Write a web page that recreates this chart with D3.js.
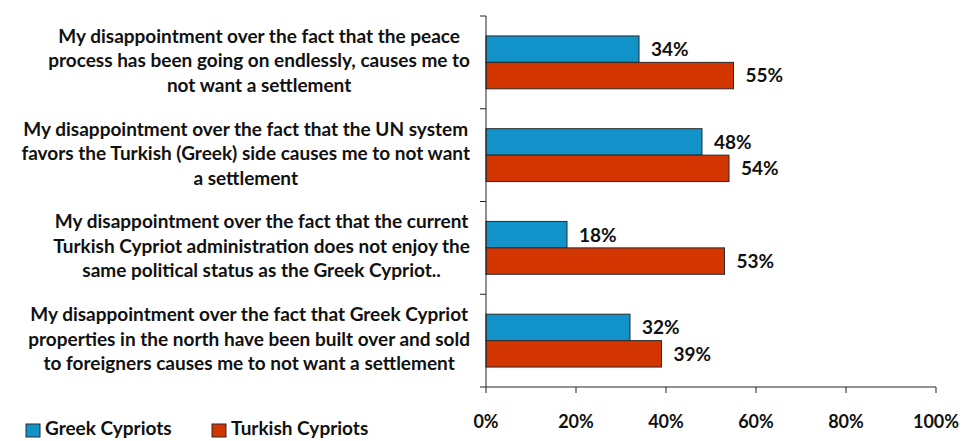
<!DOCTYPE html>
<html><head><meta charset="utf-8">
<script src="https://cdn.jsdelivr.net/npm/d3@7"></script>
<style>body{margin:0;background:#fff}svg{display:block}text{font-family:Lato,"Open Sans",sans-serif;font-weight:bold;fill:#111}</style>
</head><body>
<script>
const categories = [
  ["My disappointment over the fact that the peace","process has been going on endlessly, causes me to","not want a settlement"],
  ["My disappointment over the fact that the UN system","favors the Turkish (Greek) side causes me to not want","a settlement"],
  ["My disappointment over the fact that the current","Turkish Cypriot administration does not enjoy the","same political status as the Greek Cypriot.."],
  ["My disappointment over the fact that Greek Cypriot","properties in the north have been built over and sold","to foreigners causes me to not want a settlement"]
];
const seriesNames = ["Greek Cypriots","Turkish Cypriots"];
const greek = [34,48,18,32];
const turkish = [55,54,53,39];
const xTicks = [0,20,40,60,80,100];
const colors = ["#1192C9","#D23500"];

const W=969,H=441;
const svg=d3.select("body").append("svg").attr("width",W).attr("height",H);
const x=d3.scaleLinear().domain([0,100]).range([486,936]);
const y=d3.scaleBand().domain(d3.range(categories.length)).range([16,387]).paddingInner(0.43).paddingOuter(0.215);
const ySub=d3.scaleBand().domain([0,1]).range([0,y.bandwidth()]);
const yOuter=d3.scaleBand().domain(d3.range(categories.length)).range([16,387]);

// bars
const data=[greek,turkish];
data.forEach((vals,s)=>{
  svg.append("g").selectAll("rect").data(vals).join("rect")
    .attr("x",x(0)).attr("y",(d,i)=>y(i)+ySub(s))
    .attr("width",d=>x(d)-x(0)).attr("height",ySub.bandwidth())
    .attr("fill",colors[s]).attr("stroke","#2a2a2a").attr("stroke-width",1);
  svg.append("g").selectAll("text").data(vals).join("text")
    .attr("x",d=>x(d)+12).attr("y",(d,i)=>y(i)+ySub(s)+ySub.bandwidth()/2+2)
    .attr("dominant-baseline","middle").attr("font-size",19).text(d=>d+"%");
});

// axes
const axisColor="#222";
svg.append("line").attr("x1",x(0)).attr("x2",x(0)).attr("y1",16).attr("y2",387).attr("stroke",axisColor);
svg.append("line").attr("x1",x(0)).attr("x2",x(100)).attr("y1",387).attr("y2",387).attr("stroke",axisColor);
const yTickPos=d3.range(categories.length+1).map(i=>i<categories.length?yOuter(i):387);
svg.append("g").selectAll("line").data(yTickPos).join("line")
  .attr("x1",x(0)-6).attr("x2",x(0)).attr("y1",d=>d).attr("y2",d=>d).attr("stroke",axisColor);
svg.append("g").selectAll("line").data(xTicks).join("line")
  .attr("x1",d=>x(d)).attr("x2",d=>x(d)).attr("y1",387).attr("y2",393).attr("stroke",axisColor);
svg.append("g").selectAll("text").data(xTicks).join("text")
  .attr("x",d=>x(d)).attr("y",423).attr("text-anchor","middle").attr("dominant-baseline","middle")
  .attr("font-size",18).text(d=>d+"%");

// category labels
const lineH=24.5, rightEdge=470;
categories.forEach((lines,i)=>{
  const g=svg.append("g");
  const cy=yOuter(i)+yOuter.bandwidth()/2;
  const ts=lines.map((l,k)=>g.append("text").attr("font-size",19).attr("dominant-baseline","middle")
     .attr("y",cy+(k-(lines.length-1)/2)*lineH).attr("text-anchor","middle").text(l));
  const w=d3.max(ts,t=>t.node().getComputedTextLength());
  ts.forEach(t=>t.attr("x",rightEdge-w/2));
});

// legend
const legX=[26,212];
seriesNames.forEach((n,s)=>{
  svg.append("rect").attr("x",legX[s]).attr("y",424).attr("width",14).attr("height",13)
    .attr("fill",colors[s]).attr("stroke","#2a2a2a");
  svg.append("text").attr("x",legX[s]+19).attr("y",430).attr("dominant-baseline","middle")
    .attr("font-size",19).text(n);
});
</script>
</body></html>
